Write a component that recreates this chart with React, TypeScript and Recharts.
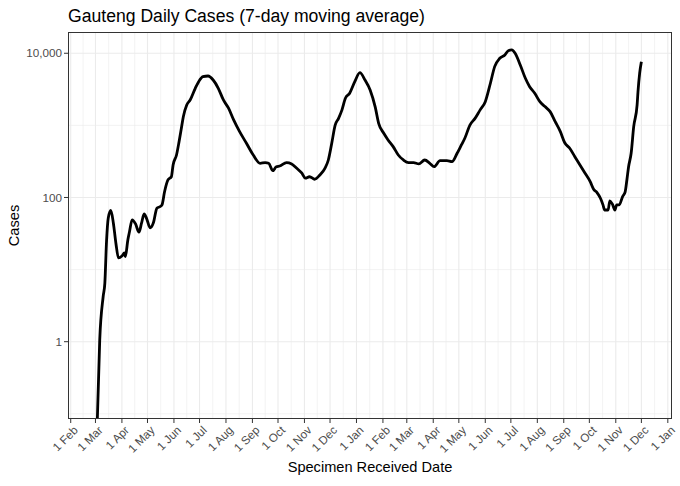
import React from 'react';
import { LineChart, Line, XAxis, YAxis, CartesianGrid } from 'recharts';

const FONT = '"Liberation Sans", Arial, Helvetica, sans-serif';

const DATES: string[] = [
  '2020-03-03', '2020-03-06', '2020-03-10', '2020-03-12', '2020-03-14', '2020-03-16', '2020-03-19',
  '2020-03-22', '2020-03-25', '2020-03-28', '2020-04-01', '2020-04-04', '2020-04-05', '2020-04-08',
  '2020-04-10', '2020-04-13', '2020-04-17', '2020-04-21', '2020-04-24', '2020-04-27', '2020-04-30',
  '2020-05-04', '2020-05-08', '2020-05-12', '2020-05-16', '2020-05-18', '2020-05-21', '2020-05-25',
  '2020-05-29', '2020-05-31', '2020-06-04', '2020-06-07', '2020-06-10', '2020-06-12', '2020-06-16',
  '2020-06-20', '2020-06-26', '2020-06-30', '2020-07-05', '2020-07-11', '2020-07-17', '2020-07-23',
  '2020-07-29', '2020-08-04', '2020-08-10', '2020-08-17', '2020-08-25', '2020-09-02', '2020-09-10',
  '2020-09-16', '2020-09-20', '2020-09-25', '2020-09-29', '2020-10-03', '2020-10-11', '2020-10-17',
  '2020-10-23', '2020-10-29', '2020-11-02', '2020-11-07', '2020-11-13', '2020-11-19', '2020-11-25',
  '2020-11-29', '2020-12-03', '2020-12-07', '2020-12-11', '2020-12-15', '2020-12-19', '2020-12-24',
  '2020-12-30', '2021-01-05', '2021-01-11', '2021-01-17', '2021-01-23', '2021-01-27', '2021-02-02',
  '2021-02-07', '2021-02-13', '2021-02-19', '2021-02-25', '2021-03-03', '2021-03-09', '2021-03-15',
  '2021-03-22', '2021-03-28', '2021-04-02', '2021-04-09', '2021-04-17', '2021-04-23', '2021-04-29',
  '2021-05-04', '2021-05-08', '2021-05-14', '2021-05-20', '2021-05-26', '2021-06-01', '2021-06-07',
  '2021-06-12', '2021-06-18', '2021-06-24', '2021-06-28', '2021-07-02', '2021-07-06', '2021-07-12',
  '2021-07-18', '2021-07-23', '2021-07-29', '2021-08-04', '2021-08-10', '2021-08-16', '2021-08-22',
  '2021-08-28', '2021-09-02', '2021-09-08', '2021-09-14', '2021-09-20', '2021-09-26', '2021-10-02',
  '2021-10-06', '2021-10-10', '2021-10-14', '2021-10-17', '2021-10-19', '2021-10-23', '2021-10-25',
  '2021-10-28', '2021-10-31', '2021-11-02', '2021-11-05', '2021-11-09', '2021-11-12', '2021-11-14',
  '2021-11-16', '2021-11-19', '2021-11-22', '2021-11-26', '2021-11-27', '2021-11-29', '2021-12-01',
];

const CASES: number[] = [
  0.07, 1.06, 4.2, 6.5, 25, 52, 66,
  44, 23, 14.5, 15.4, 17, 15.1, 26,
  34, 49, 43, 33, 44, 59, 51,
  38, 45, 71, 75, 79, 120, 175,
  194, 283, 388, 594, 959, 1320, 1920,
  2250, 3270, 4040, 4730, 4840, 4260, 3270,
  2250, 1730, 1190, 818, 565, 388, 298,
  304, 298, 235, 267, 273, 304, 292,
  254, 217, 185, 194, 179, 205, 254,
  331, 565, 1010, 1250, 1640, 2380, 2790,
  4040, 5380, 4260, 3100, 1790, 1070, 776,
  628, 507, 388, 331, 304, 304, 292,
  331, 298, 267, 324, 324, 314, 410,
  535, 662, 1010, 1250, 1640, 2130, 3840,
  6520, 8530, 9470, 10860, 11110, 10000, 6880,
  4500, 3440, 2790, 2130, 1820, 1550, 1125,
  818, 579, 481, 368, 283, 217, 166,
  130, 117, 97.5, 79, 67, 67, 90,
  81, 67, 79, 79, 103, 120, 175,
  267, 410, 959, 1920, 2900, 5300, 7650,
];

const X_TICKS: string[] = [
  '2020-02-01', '2020-03-01', '2020-04-01', '2020-05-01', '2020-06-01', '2020-07-01', '2020-08-01',
  '2020-09-01', '2020-10-01', '2020-11-01', '2020-12-01', '2021-01-01', '2021-02-01', '2021-03-01',
  '2021-04-01', '2021-05-01', '2021-06-01', '2021-07-01', '2021-08-01', '2021-09-01', '2021-10-01',
  '2021-11-01', '2021-12-01', '2022-01-01',
];
const MONTHS: string[] = ['Jan', 'Feb', 'Mar', 'Apr', 'May', 'Jun', 'Jul', 'Aug', 'Sep', 'Oct', 'Nov', 'Dec'];

const Y_TICKS: number[] = [1, 100, 10000];
const Y_MINOR: number[] = [0.1, 10, 1000];

const X_DOMAIN: [number, number] = [Date.parse('2020-01-28T19:12:00Z'), Date.parse('2022-01-05T21:36:00Z')];
const Y_DOMAIN: [number, number] = [0.0847, 19720];

const data = DATES.map((d, i) => ({ t: Date.parse(d), v: CASES[i] }));
const xMajor = X_TICKS.map((d) => Date.parse(d));
const xMinor = xMajor.slice(1).map((t, i) => (t + xMajor[i]) / 2);

const XTick = (props: any) => {
  const { x, y, payload } = props;
  const dt = new Date(payload.value);
  const label = `${dt.getUTCDate()} ${MONTHS[dt.getUTCMonth()]}`;
  return (
    <g transform={`translate(${x + 2},${y})`}>
      <text textAnchor="end" transform="rotate(-45)" dy="0.72em" fontSize={11.7} fill="#4D4D4D" stroke="none" fontFamily={FONT}>
        {label}
      </text>
    </g>
  );
};

const YTick = (props: any) => {
  const { x, y, payload } = props;
  return (
    <text x={x} y={y} dy="0.35em" textAnchor="end" fontSize={11.7} fill="#4D4D4D" stroke="none" fontFamily={FONT}>
      {Number(payload.value).toLocaleString('en-US')}
    </text>
  );
};

export default function App() {
  return (
    <div style={{ position: 'absolute', left: 0, top: 0, width: 680, height: 486, background: '#fff', fontFamily: FONT }}>
      <div style={{ position: 'absolute', left: 68, top: 6, fontSize: 17.6, lineHeight: '20px', color: '#000', whiteSpace: 'nowrap' }}>
        Gauteng Daily Cases (7-day moving average)
      </div>
      <LineChart width={680} height={486} data={data} margin={{ top: 32, right: 8, bottom: 0, left: 0 }}>
        <CartesianGrid horizontalValues={Y_MINOR} verticalValues={xMinor} stroke="#EBEBEB" strokeWidth={0.6} />
        <CartesianGrid horizontalValues={Y_TICKS} verticalValues={xMajor} stroke="#EBEBEB" strokeWidth={1.1} />
        <XAxis
          dataKey="t"
          type="number"
          domain={X_DOMAIN}
          allowDataOverflow
          ticks={xMajor}
          interval={0}
          height={67}
          axisLine={false}
          tickLine={{ stroke: '#333333' }}
          tickSize={4}
          tickMargin={2}
          tick={<XTick />}
        />
        <YAxis
          type="number"
          scale="log"
          domain={Y_DOMAIN}
          allowDataOverflow
          ticks={Y_TICKS}
          interval={0}
          width={68}
          axisLine={false}
          tickLine={{ stroke: '#333333' }}
          tickSize={4}
          tickMargin={2}
          tick={<YTick />}
        />
        <Line dataKey="v" type="monotone" stroke="#000" strokeWidth={2.8} dot={false} isAnimationActive={false} />
      </LineChart>
      <div style={{ position: 'absolute', left: 68, top: 32, width: 604, height: 387, border: '1px solid #333333', boxSizing: 'border-box', pointerEvents: 'none' }} />
      <div style={{ position: 'absolute', left: 68, width: 604, top: 459, textAlign: 'center', fontSize: 14.6, lineHeight: '17px', color: '#000' }}>
        Specimen Received Date
      </div>
      <div style={{ position: 'absolute', left: -36, top: 217, width: 100, height: 17, textAlign: 'center', fontSize: 14.6, lineHeight: '17px', color: '#000', transform: 'rotate(-90deg)' }}>
        Cases
      </div>
    </div>
  );
}
